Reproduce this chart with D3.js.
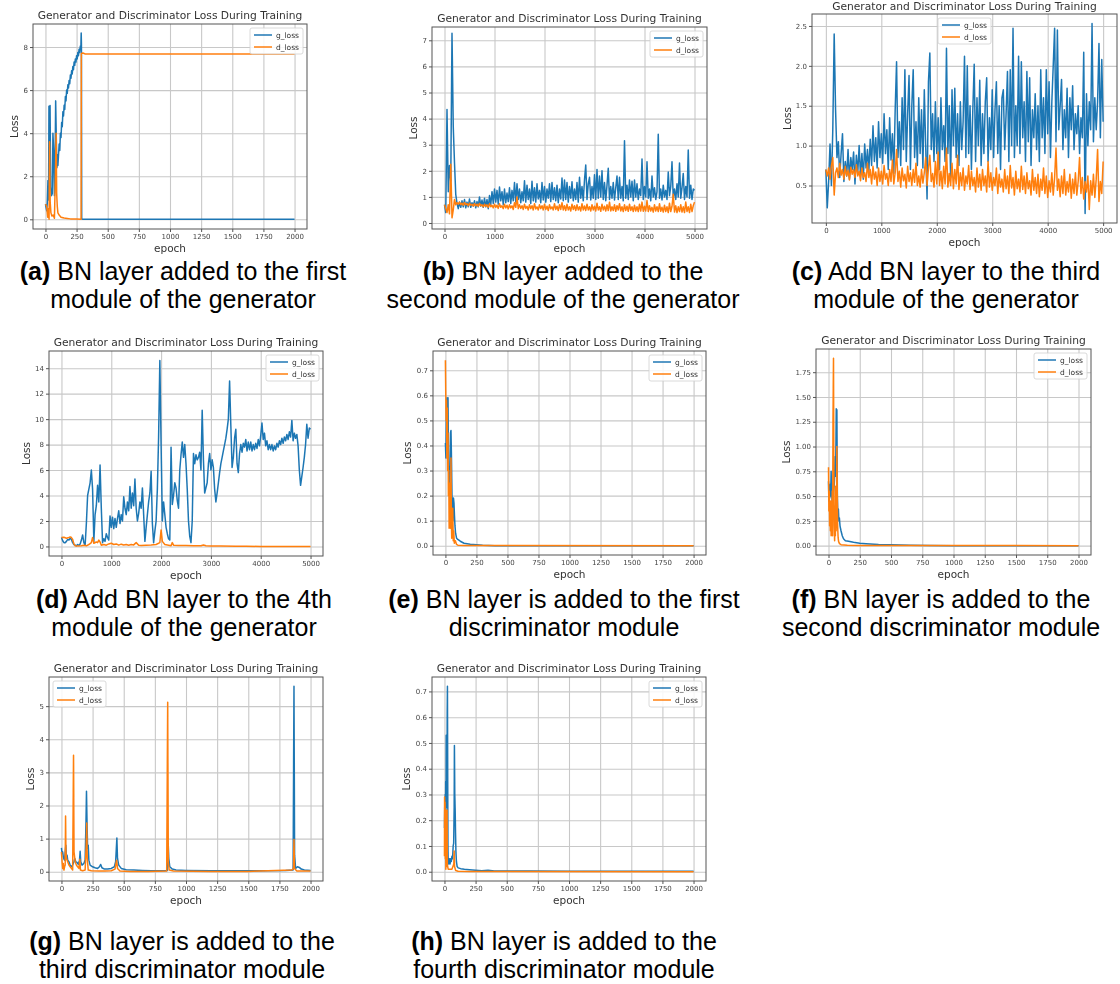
<!DOCTYPE html>
<html>
<head>
<meta charset="utf-8">
<script src="https://cdn.jsdelivr.net/npm/d3@7"></script>
<style>
  html, body { margin: 0; padding: 0; background: #fff; }
  svg { display: block; }
</style>
</head>
<body>
<svg id="fig" width="1120" height="984"></svg>
<script>
// ---------- tick labels ----------
const epochTicksShort = [0, 250, 500, 750, 1000, 1250, 1500, 1750, 2000];
const epochTicksLong = [0, 1000, 2000, 3000, 4000, 5000];
const lossTicksA = [0, 2, 4, 6, 8];
const lossTicksB = [0, 1, 2, 3, 4, 5, 6, 7];
const lossTicksC = [0.5, 1.0, 1.5, 2.0, 2.5];
const lossTicksD = [0, 2, 4, 6, 8, 10, 12, 14];
const lossTicksE = [0.0, 0.1, 0.2, 0.3, 0.4, 0.5, 0.6, 0.7];
const lossTicksF = [0.00, 0.25, 0.50, 0.75, 1.00, 1.25, 1.50, 1.75];
const lossTicksG = [0, 1, 2, 3, 4, 5];
const lossTicksH = [0.0, 0.1, 0.2, 0.3, 0.4, 0.5, 0.6, 0.7];

// the 5000-epoch runs were logged every 25 epochs
const logStep = 25;

// ---------- (a) BN in generator module 1 : [epoch, loss] ----------
const gLossA = [[0,0.70],[5,0.55],[10,0.40],[15,0.80],[20,1.80],[25,0.90],[28,5.25],[32,2.60],[37,5.28],[42,1.50],[48,1.10],[55,1.20],[60,4.00],[66,3.20],[72,1.10],[77,2.50],[82,5.50],[87,3.80],[92,2.40],[96,3.00],[100,2.50],[105,3.00],[110,3.50],[115,3.20],[120,4.00],[125,3.80],[130,4.50],[135,4.30],[140,5.00],[145,4.80],[150,5.30],[155,5.10],[160,5.70],[165,5.50],[170,6.00],[175,5.85],[180,6.25],[185,6.10],[190,6.45],[195,6.30],[200,6.70],[205,6.55],[210,6.90],[215,6.75],[220,7.10],[225,6.95],[230,7.30],[235,7.15],[240,7.45],[245,7.30],[250,7.60],[255,7.45],[260,7.75],[265,7.60],[270,7.90],[275,7.75],[280,8.05],[284,7.90],[287,8.65],[289,8.10],[291,0.02],[300,0.0],[2000,0.0]];
const dLossA = [[0,0.70],[10,0.60],[18,0.10],[24,0.50],[29,0.0],[33,3.60],[38,0.80],[44,0.30],[52,0.15],[62,0.20],[72,0.05],[80,2.00],[86,4.00],[90,1.20],[95,0.60],[100,0.30],[110,0.20],[125,0.10],[150,0.06],[175,0.04],[200,0.02],[250,0.01],[286,0.0],[288,7.70],[300,7.72],[320,7.68],[2000,7.68]];

// ---------- (b) BN in generator module 2 : one value per logStep ----------
const gLossB = [
  0.70,0.40,4.35,1.20,2.20,1.60,7.27,3.70,
  2.30,1.10,0.75,0.55,0.80,0.60,0.85,0.62,
  0.90,0.58,0.80,0.62,0.92,0.60,0.78,0.65,
  0.85,0.58,0.82,0.62,1.00,0.65,0.88,0.60,
  0.95,0.62,0.90,0.55,1.05,0.70,1.20,0.75,
  1.30,0.80,1.25,0.72,1.38,0.85,1.20,0.70,
  1.30,0.78,1.15,0.82,1.35,0.75,1.25,0.85,
  1.55,0.80,1.50,0.90,1.30,0.78,1.20,0.85,
  1.62,0.80,1.45,0.90,1.30,0.75,1.60,0.85,
  1.35,0.80,1.50,0.92,1.25,0.78,1.55,0.88,
  1.40,0.80,1.30,0.95,1.50,0.82,1.55,0.90,
  1.35,0.85,1.45,0.78,1.30,0.92,1.72,0.85,
  1.65,0.90,1.55,0.80,1.40,0.95,1.58,0.85,
  1.30,0.90,1.55,0.80,1.75,0.95,1.40,0.85,
  1.65,2.22,0.90,1.50,1.75,0.88,1.40,0.95,
  1.85,0.90,2.05,0.95,1.80,1.00,2.00,0.90,
  1.55,0.85,1.45,2.10,0.90,1.40,0.95,1.55,
  0.88,1.35,1.80,0.90,1.75,0.95,1.40,0.85,
  3.15,0.95,1.45,0.90,1.65,1.00,1.60,0.85,
  1.65,1.00,1.50,0.90,1.30,1.05,2.45,0.90,
  1.40,1.00,2.35,0.95,1.30,0.85,1.80,1.00,
  1.35,0.90,1.20,3.40,0.95,1.30,0.88,1.45,
  1.00,1.25,0.90,1.95,1.05,1.40,2.35,0.95,
  1.30,0.90,1.50,1.00,2.30,0.95,1.35,1.90,
  0.90,1.40,1.00,2.80,0.95,1.45,0.90,1.30,
  1.25];
const dLossB = [
  0.70,0.55,0.40,0.70,0.35,2.25,0.20,0.50,
  0.90,0.70,0.78,0.72,0.80,0.70,0.76,0.68,
  0.78,0.70,0.74,0.66,0.76,0.68,0.72,0.65,
  0.74,0.66,0.72,0.64,0.75,0.66,0.70,0.62,
  0.72,0.64,0.70,0.60,0.74,0.62,0.68,0.58,
  0.72,0.60,0.68,0.56,0.74,0.60,0.66,0.55,
  0.72,0.58,0.68,0.54,0.70,0.58,0.66,0.52,
  0.78,0.60,1.00,0.55,0.70,0.56,0.66,0.52,
  0.72,0.56,0.64,0.50,0.70,0.55,0.66,0.50,
  0.74,0.54,0.62,0.50,0.70,0.55,0.66,0.50,
  0.72,0.52,0.64,0.48,0.70,0.54,0.62,0.50,
  0.74,0.52,0.64,0.48,0.70,0.52,0.78,0.50,
  0.66,0.48,0.72,0.50,0.62,0.46,0.72,0.52,
  0.66,0.48,0.70,0.50,0.62,0.46,0.74,0.50,
  0.65,0.48,0.72,0.50,0.62,0.46,0.70,0.50,
  0.64,0.46,0.76,0.50,0.62,0.45,0.72,0.50,
  0.64,0.46,0.70,0.48,0.80,0.46,0.62,0.48,
  0.70,0.45,0.66,0.50,0.74,0.46,0.62,0.44,
  0.70,0.48,0.64,0.45,0.72,0.48,0.62,0.44,
  0.68,0.46,0.62,0.44,0.72,0.46,0.80,0.45,
  0.64,0.46,0.86,0.44,0.66,0.46,0.60,0.42,
  0.70,0.46,0.62,0.44,0.74,0.45,0.60,0.42,
  0.68,0.44,0.62,0.40,0.76,0.44,0.64,1.10,
  0.42,0.66,0.40,0.62,0.44,0.70,0.42,0.62,
  0.40,0.80,0.44,0.62,0.40,0.72,0.44,0.66,
  0.80];

// ---------- (c) BN in generator module 3 : one value per logStep ----------
const gLossC = [
  0.70,0.22,0.55,1.02,0.50,1.20,2.40,1.45,
  0.85,1.05,0.60,0.90,1.15,0.55,0.80,0.62,
  0.95,0.58,0.85,0.70,0.92,0.52,0.88,0.66,
  1.00,0.62,0.90,0.58,1.02,0.72,0.95,0.68,
  1.08,0.75,1.25,0.80,1.10,0.72,1.30,0.85,
  1.15,0.78,1.40,0.90,1.20,0.70,1.35,0.82,
  1.15,0.65,1.45,2.05,0.85,1.30,0.75,1.60,
  0.95,1.95,0.80,1.40,1.88,0.70,1.50,1.95,
  0.85,1.30,0.75,1.60,0.90,1.45,0.72,1.70,
  1.00,0.33,1.80,2.16,0.95,1.40,0.80,1.55,
  0.90,1.35,0.70,1.60,0.95,1.25,0.80,2.22,
  0.90,1.50,0.60,1.70,1.00,1.72,0.85,1.40,
  0.75,1.55,0.95,1.30,2.12,0.85,2.00,0.90,
  1.50,0.70,1.45,2.02,0.80,1.60,1.00,1.82,
  0.75,1.40,0.90,1.55,1.85,0.80,1.35,0.95,
  1.70,0.85,1.45,1.80,0.90,1.50,0.70,1.60,
  1.70,0.95,1.40,1.93,0.80,1.95,1.00,2.47,
  0.85,1.50,1.00,2.12,0.90,2.05,1.10,1.55,
  0.80,1.93,1.05,1.85,0.75,1.45,1.10,1.65,
  0.95,1.50,0.80,1.95,1.10,1.60,0.90,1.95,
  1.15,1.80,0.85,1.55,2.00,2.47,1.05,2.45,
  1.20,1.50,1.83,0.95,1.45,1.10,1.72,0.85,
  1.60,1.20,1.75,0.95,1.40,1.15,1.50,0.90,
  1.35,1.10,2.17,0.15,1.65,1.00,1.55,1.20,
  2.53,1.05,1.60,1.20,1.55,2.28,1.10,2.08,
  1.30];
const dLossC = [
  0.70,0.62,0.72,0.58,0.75,0.85,0.38,0.66,
  0.72,0.60,0.78,0.63,0.70,0.58,0.74,0.62,
  0.69,0.57,0.73,0.64,0.70,0.60,0.76,0.62,
  0.68,0.56,0.72,0.60,0.66,0.55,0.78,0.60,
  0.70,0.52,0.74,0.58,0.67,0.50,0.72,0.55,
  0.68,0.52,0.75,0.58,0.65,0.50,0.70,0.55,
  0.82,0.52,0.66,0.95,0.55,0.68,0.48,0.72,
  0.56,0.64,0.47,0.74,0.55,0.66,0.50,0.70,
  0.54,0.78,0.50,0.62,0.48,0.70,0.53,0.66,
  0.85,0.50,0.72,0.88,0.55,0.65,0.48,0.80,
  0.52,0.92,0.50,0.68,0.46,0.74,0.52,0.97,
  0.48,0.65,0.50,0.78,0.46,0.70,0.52,0.88,
  0.45,0.66,0.50,0.72,0.44,0.62,0.52,0.75,
  0.45,0.68,0.50,0.60,0.42,0.72,0.48,0.64,
  0.44,0.70,0.50,0.62,0.42,0.80,0.48,0.66,
  0.44,0.60,0.50,0.72,0.40,0.64,0.48,0.58,
  0.42,0.70,0.46,0.62,0.40,0.75,0.47,0.60,
  0.38,0.68,0.46,0.58,0.42,0.74,0.45,0.62,
  0.40,0.66,0.46,0.56,0.38,0.70,0.44,0.60,
  0.40,0.64,0.36,0.58,0.44,0.72,0.40,0.62,
  0.35,0.56,0.42,0.66,0.38,0.60,0.97,0.44,
  0.58,0.36,0.62,0.40,0.70,0.38,0.55,0.42,
  0.64,0.34,0.58,0.40,0.66,0.38,0.55,0.85,
  0.40,0.60,0.33,0.55,0.42,0.62,0.20,0.56,
  0.38,0.64,0.35,0.58,0.95,0.30,0.55,0.40,
  0.80];

// ---------- (d) BN in generator module 4 ----------
const gLossD = [
  0.70,0.45,0.30,0.30,0.40,0.55,0.50,0.65,
  0.55,0.30,0.15,0.10,0.05,0.15,0.08,0.20,
  0.50,0.90,0.30,0.10,1.80,4.00,4.50,5.00,
  6.00,4.50,0.40,2.50,3.20,4.80,3.50,6.40,
  3.00,0.30,0.60,0.40,1.00,0.70,0.50,2.40,
  1.50,2.30,1.40,2.20,1.50,2.20,2.80,1.80,
  2.50,2.00,3.90,3.00,2.50,3.50,2.80,4.70,
  3.00,4.20,3.20,5.30,3.00,2.00,2.60,3.50,
  3.00,4.60,2.50,0.40,1.50,2.50,3.50,4.20,
  5.90,1.80,0.30,1.20,2.00,4.50,8.60,14.60,
  8.00,2.00,3.50,2.50,1.50,1.00,0.60,0.50,
  7.80,3.30,4.00,5.00,4.60,3.60,3.00,6.00,
  7.20,8.20,7.00,8.00,6.50,4.50,2.00,0.80,
  0.30,2.00,7.30,6.50,7.20,6.80,7.00,7.40,
  6.00,10.70,6.80,4.20,4.60,5.00,6.50,7.30,
  6.00,6.80,6.20,4.50,3.50,4.20,5.00,5.80,
  6.50,7.00,7.50,8.00,8.50,9.20,10.00,13.00,
  9.50,6.20,7.00,8.50,9.20,6.50,5.80,7.30,
  8.00,7.40,8.10,7.80,8.40,7.50,8.20,7.60,
  8.20,7.50,8.00,7.60,8.10,7.70,8.40,7.90,
  8.70,9.70,8.40,8.90,7.90,8.30,7.60,8.00,
  7.60,8.00,7.50,7.90,7.60,8.10,7.80,8.30,
  8.00,8.50,8.10,8.60,8.30,8.80,8.40,9.00,
  8.60,9.90,8.30,8.90,8.50,8.80,7.90,6.00,
  4.80,5.50,6.20,7.00,8.00,9.60,8.50,9.30,
  9.20];
const dLossD = [[0,0.70],[50,0.72],[100,0.65],[150,0.70],[175,0.75],[200,0.70],[225,0.55],[250,0.20],[275,0.05],[300,0.03],[400,0.05],[450,0.10],[500,0.05],[550,0.15],[600,0.30],[625,0.70],[650,0.25],[700,0.35],[725,0.30],[750,0.50],[775,0.35],[800,0.10],[850,0.15],[900,0.10],[950,0.20],[1000,0.25],[1050,0.15],[1100,0.20],[1150,0.10],[1200,0.18],[1250,0.12],[1300,0.15],[1350,0.10],[1400,0.15],[1450,0.12],[1500,0.30],[1550,0.10],[1600,0.08],[1700,0.10],[1800,0.12],[1900,0.15],[1975,0.30],[2000,1.30],[2025,0.40],[2075,0.15],[2150,0.10],[2200,0.05],[2225,0.30],[2250,0.10],[2350,0.08],[2500,0.07],[2650,0.06],[2800,0.05],[2850,0.12],[2900,0.05],[3000,0.04],[3200,0.03],[3500,0.02],[3700,0.01],[4000,0.005],[5000,0.0]];

// ---------- (e) BN in discriminator module 1 ----------
const gLossE = [[0,0.41],[4,0.35],[8,0.55],[13,0.59],[17,0.50],[21,0.59],[25,0.32],[29,0.25],[33,0.22],[37,0.30],[41,0.45],[45,0.46],[49,0.35],[53,0.20],[57,0.13],[61,0.10],[65,0.19],[69,0.17],[73,0.12],[77,0.08],[82,0.05],[90,0.03],[100,0.025],[120,0.018],[150,0.01],[200,0.006],[250,0.004],[300,0.002],[350,0.001],[400,0.0],[2000,0.0]];
const dLossE = [[0,0.74],[3,0.60],[6,0.50],[9,0.58],[12,0.35],[15,0.55],[18,0.30],[21,0.45],[24,0.20],[27,0.30],[30,0.07],[33,0.25],[36,0.15],[39,0.20],[42,0.07],[45,0.35],[48,0.10],[51,0.03],[55,0.08],[59,0.15],[63,0.02],[67,0.06],[72,0.01],[80,0.02],[90,0.005],[100,0.002],[150,0.001],[2000,0.0]];

// ---------- (f) BN in discriminator module 2 ----------
const gLossF = [[0,0.65],[3,0.45],[6,0.60],[10,0.48],[13,0.62],[17,0.50],[21,0.75],[25,0.55],[29,0.45],[33,0.62],[37,0.45],[41,0.55],[45,0.60],[49,0.70],[53,0.90],[57,0.70],[62,1.38],[67,1.37],[71,0.50],[75,0.30],[79,0.37],[83,0.25],[87,0.28],[92,0.20],[100,0.15],[110,0.10],[120,0.07],[135,0.05],[160,0.045],[200,0.035],[250,0.025],[300,0.02],[400,0.012],[500,0.008],[650,0.005],[800,0.002],[1000,0.0],[2000,0.0]];
const dLossF = [[0,0.79],[3,0.35],[6,0.55],[9,0.20],[12,0.40],[15,0.15],[18,0.45],[21,0.10],[24,0.35],[27,0.20],[30,0.55],[33,0.10],[36,1.28],[40,1.89],[43,0.60],[46,0.20],[49,0.05],[52,0.40],[55,0.10],[58,0.60],[61,0.15],[64,0.30],[67,1.00],[70,0.55],[73,0.20],[77,0.08],[81,0.04],[88,0.02],[100,0.01],[150,0.005],[250,0.002],[2000,0.0]];

// ---------- (g) BN in discriminator module 3 ----------
const gLossG = [[0,0.72],[5,0.55],[10,0.60],[15,0.45],[20,0.38],[25,0.35],[30,0.60],[35,0.80],[40,0.45],[45,0.50],[50,0.35],[60,0.30],[70,0.20],[80,0.15],[90,0.20],[100,0.30],[107,0.40],[115,0.30],[125,0.28],[135,0.22],[145,0.35],[150,0.62],[155,0.30],[165,0.20],[180,0.25],[190,0.35],[197,1.50],[201,2.43],[205,1.55],[210,0.70],[215,0.80],[220,0.35],[230,0.20],[250,0.15],[270,0.12],[290,0.10],[305,0.15],[315,0.22],[325,0.12],[345,0.08],[370,0.08],[400,0.10],[425,0.15],[435,0.30],[445,1.02],[450,0.40],[460,0.20],[480,0.10],[520,0.06],[580,0.05],[650,0.04],[720,0.03],[800,0.03],[850,0.04],[857,0.85],[862,0.40],[870,0.15],[890,0.08],[920,0.05],[1000,0.04],[1200,0.03],[1400,0.03],[1600,0.03],[1800,0.04],[1860,0.05],[1867,5.60],[1872,0.50],[1880,0.10],[1895,0.15],[1910,0.13],[1925,0.08],[1950,0.05],[2000,0.04]];
const dLossG = [[0,0.60],[5,0.30],[10,0.10],[15,0.25],[20,0.05],[25,0.15],[30,0.20],[33,1.68],[36,0.60],[40,0.40],[50,0.30],[60,0.20],[70,0.15],[80,0.10],[90,0.05],[97,3.52],[101,0.60],[110,0.30],[120,0.20],[130,0.15],[140,0.10],[148,0.38],[152,0.05],[170,0.03],[190,0.05],[199,0.80],[203,1.47],[207,0.40],[215,0.05],[240,0.03],[300,0.02],[350,0.02],[400,0.03],[430,0.08],[443,0.35],[450,0.10],[470,0.02],[550,0.01],[700,0.01],[845,0.02],[853,5.12],[858,0.30],[865,0.05],[900,0.02],[1200,0.01],[1500,0.01],[1850,0.05],[1863,0.10],[1867,0.97],[1871,0.10],[1890,0.02],[2000,0.02]];

// ---------- (h) BN in discriminator module 4 ----------
const gLossH = [[0,0.17],[2,0.25],[4,0.07],[6,0.30],[8,0.15],[10,0.35],[12,0.20],[14,0.53],[16,0.30],[18,0.53],[20,0.25],[22,0.62],[24,0.72],[26,0.40],[28,0.10],[30,0.04],[35,0.03],[40,0.05],[45,0.03],[50,0.05],[55,0.04],[60,0.06],[65,0.05],[70,0.10],[74,0.11],[78,0.25],[80,0.49],[83,0.30],[86,0.24],[89,0.15],[92,0.08],[96,0.04],[102,0.02],[110,0.015],[130,0.012],[160,0.01],[200,0.008],[250,0.006],[300,0.004],[350,0.006],[400,0.003],[500,0.003],[700,0.003],[1000,0.002],[1500,0.002],[2000,0.002]];
const dLossH = [[0,0.06],[1,0.29],[3,0.15],[5,0.27],[7,0.05],[9,0.24],[11,0.01],[13,0.20],[15,0.05],[17,0.22],[19,0.02],[21,0.24],[23,0.03],[26,0.02],[30,0.01],[40,0.01],[60,0.01],[75,0.03],[78,0.08],[81,0.02],[90,0.005],[110,0.002],[200,0.001],[2000,0.0]];

// ---------- captions ----------
const captionTags = ["(a)", "(b)", "(c)", "(d)", "(e)", "(f)", "(g)", "(h)"];
const captionText = [
  ["BN layer added to the first", "module of the generator"],
  ["BN layer added to the", "second module of the generator"],
  ["Add BN layer to the third", "module of the generator"],
  ["Add BN layer to the 4th", "module of the generator"],
  ["BN layer is added to the first", "discriminator module"],
  ["BN layer is added to the", "second discriminator module"],
  ["BN layer is added to the", "third discriminator module"],
  ["BN layer is added to the", "fourth discriminator module"]
];
const chartTitle = "Generator and Discriminator Loss During Training";
const seriesNames = ["g_loss", "d_loss"];

// ---------- drawing ----------
const BLUE = "#1f77b4", ORANGE = "#ff7f0e";
const PLOT_FONT = "'DejaVu Sans', sans-serif";
const CAP_FONT = "'Liberation Sans', Arial, sans-serif";

const asPairs = s => (typeof s[0] === "number") ? s.map((v, i) => [i * logStep, v]) : s;

// plot-frame layout [left, right, top, bottom] and value windows per subplot
const panels = [
  { rect: [33, 307, 24, 229],   xd: [-100, 2100], yd: [-0.45, 9.07],   xt: epochTicksShort, yt: lossTicksA, yf: "d",   g: gLossA, d: dLossA, leg: "ur" },
  { rect: [432, 707, 27, 229],  xd: [-250, 5250], yd: [-0.23, 7.51],   xt: epochTicksLong,  yt: lossTicksB, yf: "d",   g: gLossB, d: dLossB, leg: "ur" },
  { rect: [812, 1117, 14, 223], xd: [-250, 5250], yd: [0.03, 2.65],    xt: epochTicksLong,  yt: lossTicksC, yf: ".1f", g: gLossC, d: dLossC, leg: "uc" },
  { rect: [49, 323, 351, 556],  xd: [-250, 5250], yd: [-0.75, 15.35],  xt: epochTicksLong,  yt: lossTicksD, yf: "d",   g: gLossD, d: dLossD, leg: "ur" },
  { rect: [433, 706, 351, 555], xd: [-100, 2100], yd: [-0.037, 0.777], xt: epochTicksShort, yt: lossTicksE, yf: ".1f", g: gLossE, d: dLossE, leg: "ur" },
  { rect: [816, 1091, 349, 555],xd: [-100, 2100], yd: [-0.0945, 1.984],xt: epochTicksShort, yt: lossTicksF, yf: ".2f", g: gLossF, d: dLossF, leg: "ur" },
  { rect: [49, 323, 677, 881],  xd: [-100, 2100], yd: [-0.28, 5.88],   xt: epochTicksShort, yt: lossTicksG, yf: "d",   g: gLossG, d: dLossG, leg: "ul" },
  { rect: [432, 706, 677, 881], xd: [-100, 2100], yd: [-0.036, 0.756], xt: epochTicksShort, yt: lossTicksH, yf: ".1f", g: gLossH, d: dLossH, leg: "ur" }
];

// caption anchors: centre x and the midpoint between the two caption baselines
const captionLayout = [
  { cx: 183, y: 293.5 }, { cx: 563, y: 293.5 }, { cx: 946, y: 293.5 },
  { cx: 184, y: 621.5 }, { cx: 564, y: 621.5 }, { cx: 941, y: 621.5 },
  { cx: 182, y: 963.5 }, { cx: 564, y: 963.5 }
];
const CAP_SIZE = 25, CAP_LEAD = 28;

const svg = d3.select("#fig");
const defs = svg.append("defs");
defs.append("filter").attr("id", "soft")
  .attr("x", "-2%").attr("y", "-2%").attr("width", "104%").attr("height", "104%")
  .append("feGaussianBlur").attr("stdDeviation", 0.55);

svg.append("rect").attr("width", 1120).attr("height", 984).attr("fill", "#fff");

panels.forEach((p, i) => {
  const [L, R, T, B] = p.rect;
  const x = d3.scaleLinear().domain(p.xd).range([L, R]);
  const y = d3.scaleLinear().domain(p.yd).range([B, T]);
  const g = svg.append("g").attr("filter", "url(#soft)");

  // grid
  g.append("g").attr("transform", `translate(0,${B})`)
    .call(d3.axisBottom(x).tickValues(p.xt).tickSize(-(B - T)).tickFormat(""))
    .call(s => { s.select(".domain").remove(); s.selectAll("line").attr("stroke", "#c8c8c8").attr("stroke-width", 1.1); });
  g.append("g").attr("transform", `translate(${L},0)`)
    .call(d3.axisLeft(y).tickValues(p.yt).tickSize(-(R - L)).tickFormat(""))
    .call(s => { s.select(".domain").remove(); s.selectAll("line").attr("stroke", "#c8c8c8").attr("stroke-width", 1.1); });

  // loss curves
  const clipId = "plotclip" + i;
  defs.append("clipPath").attr("id", clipId)
    .append("rect").attr("x", L).attr("y", T).attr("width", R - L).attr("height", B - T);
  const line = d3.line().x(d => x(d[0])).y(d => y(d[1]));
  const plot = g.append("g").attr("clip-path", `url(#${clipId})`);
  plot.append("path").datum(asPairs(p.g)).attr("d", line)
    .attr("fill", "none").attr("stroke", BLUE).attr("stroke-width", 1.5).attr("stroke-linejoin", "round");
  plot.append("path").datum(asPairs(p.d)).attr("d", line)
    .attr("fill", "none").attr("stroke", ORANGE).attr("stroke-width", 1.5).attr("stroke-linejoin", "round");

  // frame
  g.append("rect").attr("x", L).attr("y", T).attr("width", R - L).attr("height", B - T)
    .attr("fill", "none").attr("stroke", "#555").attr("stroke-width", 1);

  // axes
  const xa = g.append("g").attr("transform", `translate(0,${B})`)
    .call(d3.axisBottom(x).tickValues(p.xt).tickSize(3).tickPadding(2).tickFormat(d3.format("d")));
  const ya = g.append("g").attr("transform", `translate(${L},0)`)
    .call(d3.axisLeft(y).tickValues(p.yt).tickSize(3).tickPadding(2).tickFormat(d3.format(p.yf)));
  [xa, ya].forEach(a => {
    a.select(".domain").remove();
    a.selectAll("line").attr("stroke", "#555");
    a.selectAll("text").attr("font-family", PLOT_FONT).attr("font-size", 7).attr("fill", "#444");
  });

  // title and axis labels
  g.append("text").attr("x", (L + R) / 2).attr("y", Math.max(T - 5, 10)).attr("text-anchor", "middle")
    .attr("font-family", PLOT_FONT).attr("font-size", 10.7).attr("fill", "#333").text(chartTitle);
  g.append("text").attr("x", (L + R) / 2).attr("y", B + 23).attr("text-anchor", "middle")
    .attr("font-family", PLOT_FONT).attr("font-size", 10.5).attr("fill", "#333").text("epoch");
  let minX = L;
  ya.selectAll("text").each(function () { const b = this.getBBox(); minX = Math.min(minX, L - 5 - b.width); });
  g.append("text").attr("transform", `translate(${minX - 5},${(T + B) / 2}) rotate(-90)`)
    .attr("text-anchor", "middle").attr("font-family", PLOT_FONT).attr("font-size", 10.5)
    .attr("fill", "#333").text("Loss");

  // legend
  const lw = 53, lh = 26;
  const bx = p.leg === "ur" ? R - 4 - lw : p.leg === "ul" ? L + 4 : (L + R) / 2 - lw / 2;
  const by = T + 4;
  const lg = g.append("g").attr("transform", `translate(${bx},${by})`);
  lg.append("rect").attr("width", lw).attr("height", lh).attr("rx", 2)
    .attr("fill", "#fff").attr("fill-opacity", 0.85).attr("stroke", "#d0d0d0").attr("stroke-width", 0.8);
  [BLUE, ORANGE].forEach((c, k) => {
    lg.append("line").attr("x1", 4).attr("x2", 22).attr("y1", 7 + k * 12).attr("y2", 7 + k * 12)
      .attr("stroke", c).attr("stroke-width", 1.5);
    lg.append("text").attr("x", 26).attr("y", 9.6 + k * 12)
      .attr("font-family", PLOT_FONT).attr("font-size", 7.5).attr("fill", "#333").text(seriesNames[k]);
  });
});

// sub-figure captions: bold tag followed by the description, two centred lines
captionLayout.forEach((c, i) => {
  const y1 = c.y - CAP_LEAD / 2, y2 = c.y + CAP_LEAD / 2;
  const t1 = svg.append("text").attr("x", c.cx).attr("y", y1).attr("text-anchor", "middle")
    .attr("font-family", CAP_FONT).attr("font-size", CAP_SIZE).attr("fill", "#000");
  t1.append("tspan").attr("font-weight", "bold").text(captionTags[i]);
  t1.append("tspan").text(" " + captionText[i][0]);
  svg.append("text").attr("x", c.cx).attr("y", y2).attr("text-anchor", "middle")
    .attr("font-family", CAP_FONT).attr("font-size", CAP_SIZE).attr("fill", "#000")
    .text(captionText[i][1]);
});
</script>
</body>
</html>
